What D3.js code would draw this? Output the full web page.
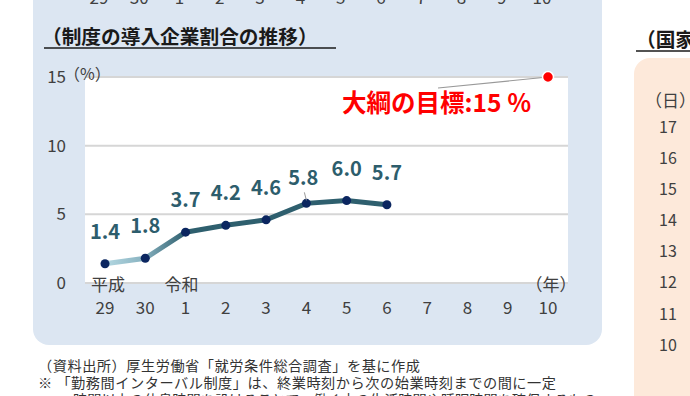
<!DOCTYPE html>
<html>
<head>
<meta charset="utf-8">
<script src="https://cdn.jsdelivr.net/npm/d3@7"></script>
<style>
  body { margin: 0; background: #fff; }
  svg { display: block; font-family: "Noto Sans CJK JP", "Noto Sans", sans-serif; }
</style>
</head>
<body>
<script>
// data
const years = ["29", "30", "1", "2", "3", "4", "5", "6", "7", "8", "9", "10"];
const rates = [1.4, 1.8, 3.7, 4.2, 4.6, 5.8, 6.0, 5.7];
const targetYear = "10";
const targetValue = 15;
const yTicks = [0, 5, 10, 15];
const dayTicks = [17, 16, 15, 14, 13, 12, 11, 10];

const width = 690;
const height = 396;

let svg = d3.select('body')
  .append('svg')
  .attr('width', width)
  .attr('height', height);

const defs = svg.append("defs");

// scales
const x = d3.scalePoint()
  .domain(years)
  .range([105, 548]);

const y = d3.scaleLinear()
  .domain([0, 15])
  .range([283, 77]);

// gradient for the first segments
const grad = defs.append("linearGradient")
  .attr("id", "lineGrad")
  .attr("gradientUnits", "userSpaceOnUse")
  .attr("x1", x("29")).attr("y1", 0)
  .attr("x2", x("1")).attr("y2", 0);
grad.append("stop").attr("offset", 0).attr("stop-color", "#b4d8e2");
grad.append("stop").attr("offset", 0.48).attr("stop-color", "#88b2c0");
grad.append("stop").attr("offset", 1).attr("stop-color", "#2e5f6e");

// blue panel
svg.append("rect")
  .attr("x", 33).attr("y", -30)
  .attr("width", 569).attr("height", 375)
  .attr("rx", 16)
  .attr("fill", "#dce6f2");

// tick labels of the previous chart (cut at the top)
svg.selectAll(".top_tick")
  .data(years)
  .enter()
  .append("text")
  .attr("class", "top_tick")
  .attr("x", d => x(d) - 6)
  .attr("y", 4)
  .attr("text-anchor", "middle")
  .attr("font-size", 17)
  .attr("fill", "#404040")
  .text(d => d);

// title
svg.append("text")
  .attr("x", 42).attr("y", 44)
  .attr("font-size", 19.7)
  .attr("font-weight", "bold")
  .attr("fill", "#1a1a1a")
  .text("（制度の導入企業割合の推移）");
svg.append("line")
  .attr("x1", 44).attr("x2", 336)
  .attr("y1", 48).attr("y2", 48)
  .attr("stroke", "#1a1a1a")
  .attr("stroke-width", 1.5);

// plot area
svg.append("rect")
  .attr("x", 85).attr("y", y(15))
  .attr("width", 568 - 85).attr("height", y(0) - y(15))
  .attr("fill", "#ffffff");

svg.selectAll(".grid")
  .data(yTicks)
  .enter()
  .append("line")
  .attr("class", "grid")
  .attr("x1", 85).attr("x2", 568)
  .attr("y1", d => y(d)).attr("y2", d => y(d))
  .attr("stroke", "#d6d6d6")
  .attr("stroke-width", 2);

// y axis labels
svg.selectAll(".ytick")
  .data(yTicks)
  .enter()
  .append("text")
  .attr("class", "ytick")
  .attr("x", 66)
  .attr("y", d => y(d))
  .attr("dy", "0.36em")
  .attr("text-anchor", "end")
  .attr("font-size", 17)
  .attr("fill", "#404040")
  .text(d => d);

svg.append("text")
  .attr("x", 64).attr("y", 80)
  .attr("font-size", 16)
  .attr("fill", "#404040")
  .text("（%）");

// x axis labels
svg.selectAll(".xtick")
  .data(years)
  .enter()
  .append("text")
  .attr("class", "xtick")
  .attr("x", d => x(d))
  .attr("y", 314)
  .attr("text-anchor", "middle")
  .attr("font-size", 17)
  .attr("fill", "#404040")
  .text(d => d);

svg.append("text")
  .attr("x", x("29") + 3).attr("y", 291)
  .attr("text-anchor", "middle")
  .attr("font-size", 17)
  .attr("fill", "#404040")
  .text("平成");
svg.append("text")
  .attr("x", x("1") - 4).attr("y", 291)
  .attr("text-anchor", "middle")
  .attr("font-size", 17)
  .attr("fill", "#404040")
  .text("令和");
svg.append("text")
  .attr("x", x("10") + 3).attr("y", 291)
  .attr("text-anchor", "middle")
  .attr("font-size", 17)
  .attr("fill", "#404040")
  .text("（年）");

// line
const pts = rates.map((v, i) => [x(years[i]), y(v)]);

const line = d3.line();

// first two segments with gradient, the rest dark
svg.append("path")
  .attr("d", line(pts.slice(0, 3)))
  .attr("fill", "none")
  .attr("stroke", "url(#lineGrad)")
  .attr("stroke-width", 5);
svg.append("path")
  .attr("d", line(pts.slice(2)))
  .attr("fill", "none")
  .attr("stroke", "#2e5f6e")
  .attr("stroke-width", 5);

svg.selectAll(".dot")
  .data(rates)
  .enter()
  .append("circle")
  .attr("class", "dot")
  .attr("cx", (d, i) => x(years[i]))
  .attr("cy", d => y(d))
  .attr("r", 4.5)
  .attr("fill", "#0b2660");

// leader line for 5.8
svg.append("line")
  .attr("x1", x("4") - 2).attr("y1", y(5.8) - 11)
  .attr("x2", x("4")).attr("y2", y(5.8) - 3)
  .attr("stroke", "#999")
  .attr("stroke-width", 1);

svg.selectAll(".val")
  .data(rates)
  .enter()
  .append("text")
  .attr("class", "val")
  .attr("x", (d, i) => x(years[i]) - (years[i] == "4" ? 3 : 0))
  .attr("y", (d, i) => y(d) - (years[i] == "4" ? 18 : 25))
  .attr("text-anchor", "middle")
  .attr("font-size", 20)
  .attr("font-weight", "bold")
  .attr("fill", "#2d5d6c")
  .text(d => d.toFixed(1));

// target
svg.append("line")
  .attr("x1", 438).attr("y1", 88)
  .attr("x2", x(targetYear)).attr("y2", y(targetValue))
  .attr("stroke", "#999")
  .attr("stroke-width", 1.2);
svg.append("circle")
  .attr("cx", x(targetYear))
  .attr("cy", y(targetValue))
  .attr("r", 5.5)
  .attr("fill", "#ff0000")
  .attr("stroke", "#fff")
  .attr("stroke-width", 1.5);
svg.append("text")
  .attr("x", 342).attr("y", 112)
  .attr("font-size", 24.5)
  .attr("font-weight", "bold")
  .attr("fill", "#ff0000")
  .text("大綱の目標:" + targetValue + " ％");

// notes
svg.append("text")
  .attr("x", 38).attr("y", 371)
  .attr("font-size", 14.2)
  .attr("fill", "#333")
  .attr("textLength", 382)
  .attr("lengthAdjust", "spacing")
  .text("（資料出所）厚生労働省「就労条件総合調査」を基に作成");
svg.append("text")
  .attr("x", 38).attr("y", 388)
  .attr("font-size", 14.2)
  .attr("fill", "#333")
  .attr("textLength", 518)
  .attr("lengthAdjust", "spacing")
  .text("※  「勤務間インターバル制度」は、終業時刻から次の始業時刻までの間に一定");
svg.append("text")
  .attr("x", 73).attr("y", 405)
  .attr("font-size", 14.2)
  .attr("fill", "#333")
  .text("時間以上の休息時間を設けることで、働く方の生活時間や睡眠時間を確保するもの");

// right panel (next chart, cut)
svg.append("rect")
  .attr("x", 634).attr("y", 58)
  .attr("width", 120).attr("height", 360)
  .attr("rx", 16)
  .attr("fill", "#fde9da");

svg.append("text")
  .attr("x", 636).attr("y", 47)
  .attr("font-size", 19.7)
  .attr("font-weight", "bold")
  .attr("fill", "#1a1a1a")
  .text("（国家公務員）");
svg.append("line")
  .attr("x1", 636).attr("x2", 700)
  .attr("y1", 51).attr("y2", 51)
  .attr("stroke", "#1a1a1a")
  .attr("stroke-width", 1.5);

const yDay = d3.scaleLinear()
  .domain([10, 17])
  .range([345, 127]);

svg.append("text")
  .attr("x", 645).attr("y", 107)
  .attr("font-size", 17)
  .attr("fill", "#404040")
  .text("（日）");

svg.selectAll(".daytick")
  .data(dayTicks)
  .enter()
  .append("text")
  .attr("class", "daytick")
  .attr("x", 668)
  .attr("y", d => yDay(d))
  .attr("dy", "0.36em")
  .attr("text-anchor", "middle")
  .attr("font-size", 16)
  .attr("fill", "#404040")
  .text(d => d);
</script>
</body>
</html>
